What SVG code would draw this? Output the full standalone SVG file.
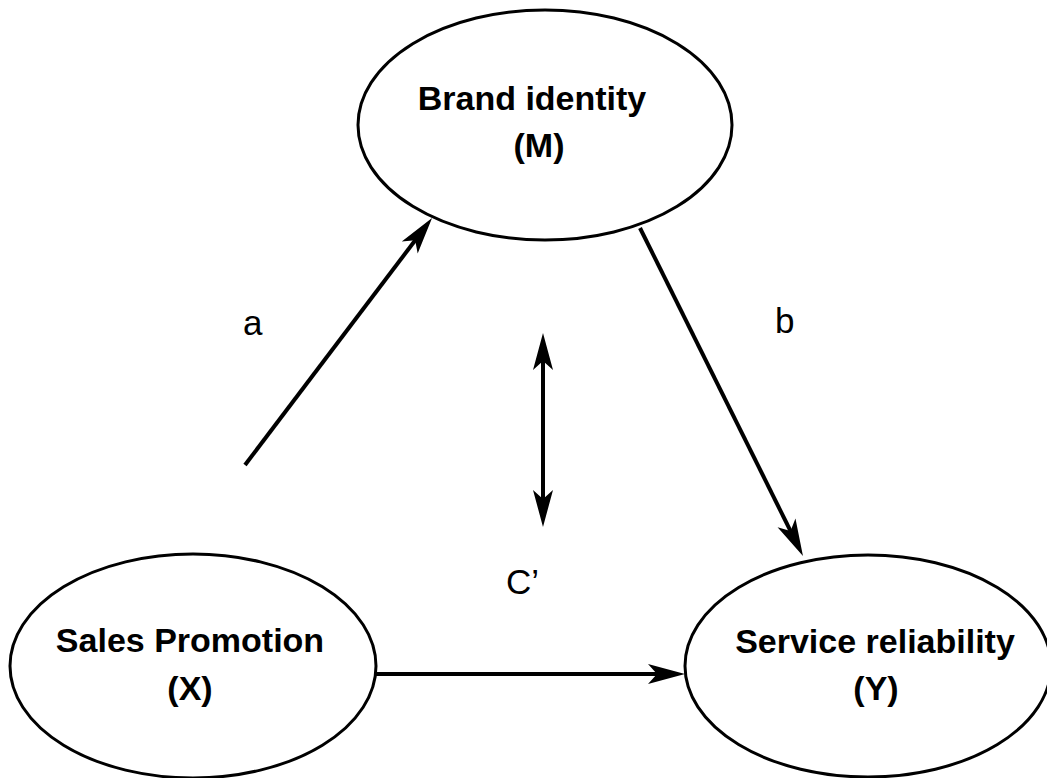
<svg xmlns="http://www.w3.org/2000/svg" width="1047" height="778" viewBox="0 0 1047 778">
  <style>
    .node ellipse { fill: #ffffff; stroke: #000000; stroke-width: 3; }
    .node text { font-family: "Liberation Sans", Arial, sans-serif; font-weight: bold; font-size: 34px; fill: #000000; text-anchor: middle; }
    .edge { fill: none; stroke: #000000; stroke-width: 4; }
    .label { font-family: "Liberation Sans", Arial, sans-serif; font-size: 35px; fill: #000000; }
  </style>
  <defs>
    <marker id="head" markerUnits="userSpaceOnUse" viewBox="-25 -12 42 24" refX="0" refY="0" markerWidth="42" markerHeight="24" orient="auto-start-reverse" overflow="visible">
      <path d="M15,0 L-22,-10 L-13,0 L-22,10 Z" fill="#000000"/>
    </marker>
  </defs>
  <rect x="0" y="0" width="1047" height="778" fill="#ffffff"/>

  <g id="connectors">
    <!-- path a: X to M -->
    <path class="edge" d="M245,465 L423,230" marker-end="url(#head)"/>
    <!-- path b: M to Y -->
    <path class="edge" d="M640,228 L796.3,542.6" marker-end="url(#head)"/>
    <!-- direct path c': X to Y -->
    <path class="edge" d="M376,674 L670,674" marker-end="url(#head)"/>
    <!-- two-way arrow -->
    <path class="edge" d="M543,348 L543,512" marker-start="url(#head)" marker-end="url(#head)"/>
  </g>

  <g id="labels">
    <text class="label" x="243" y="335">a</text>
    <text class="label" x="775" y="333">b</text>
    <text class="label" x="506" y="594">C’</text>
  </g>

  <g id="node-m" class="node">
    <ellipse cx="545" cy="125" rx="187" ry="115"/>
    <text x="532" y="110">Brand identity</text>
    <text x="539" y="157">(M)</text>
  </g>

  <g id="node-x" class="node">
    <ellipse cx="193" cy="666" rx="183" ry="112"/>
    <text x="190" y="652">Sales Promotion</text>
    <text x="190" y="700">(X)</text>
  </g>

  <g id="node-y" class="node">
    <ellipse cx="868" cy="666" rx="183" ry="111"/>
    <text x="875" y="653">Service reliability</text>
    <text x="876" y="700">(Y)</text>
  </g>
</svg>
